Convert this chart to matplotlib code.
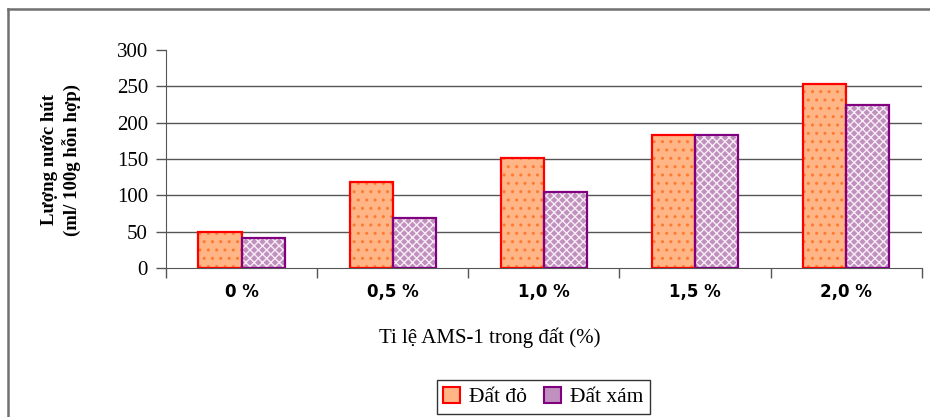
import matplotlib as mpl
mpl.use('Agg')
import matplotlib.pyplot as plt
from matplotlib.lines import Line2D
from matplotlib.patches import Patch
import numpy as np

categories = ['0 %', '0,5 %', '1,0 %', '1,5 %', '2,0 %']
dat_do = [50, 118, 152, 183, 253]
dat_xam = [41, 69, 105, 183, 225]

plt.rcParams['font.family'] = ['Liberation Serif', 'DejaVu Serif']
plt.rcParams['hatch.linewidth'] = 1.0

fig = plt.figure(figsize=(9.3, 4.17), dpi=100)
ax = fig.add_axes([0.1785, 0.357, 0.8125, 0.523])

x = np.arange(len(categories))
w = 0.285

# red soil: orange fill, dotted hatch, red outline
ax.bar(x - w / 2, dat_do, w, color='#FFB585', hatch='..', edgecolor='#FF7A30', lw=0, zorder=3)
ax.bar(x - w / 2, dat_do, w, fill=False, edgecolor='#FF0000', lw=1.6, zorder=4)
# grey soil: mauve fill, white woven hatch, purple outline
ax.bar(x + w / 2, dat_xam, w, color='#C090BE', hatch='xxxx', edgecolor='#F6ECF4', lw=0, zorder=3)
ax.bar(x + w / 2, dat_xam, w, fill=False, edgecolor='#800080', lw=1.6, zorder=4)

ax.set_xlim(-0.5, len(categories) - 0.5)
ax.set_ylim(0, 300)
ax.set_yticks(range(0, 301, 50))
for v in range(50, 300, 50):
    ax.axhline(v, color='#555555', lw=1, zorder=1)

ax.set_xticks(np.arange(-0.5, len(categories), 1))
ax.set_xticklabels([])
ax.tick_params(axis='x', length=7, width=1, color='#555555', direction='out')
ax.tick_params(axis='y', length=7, width=1, color='#555555', labelsize=15, pad=6)
for i, c in enumerate(categories):
    ax.text(i, -33, c, ha='center', va='center', fontsize=12, fontweight='bold',
            family='DejaVu Sans', transform=ax.transData)

for s in ['top', 'right']:
    ax.spines[s].set_visible(False)
ax.spines['left'].set_color('#555555')
ax.spines['bottom'].set_color('#555555')

fig.text(0.527, 0.19, 'Ti lệ AMS-1 trong đất (%)', ha='center', va='center', fontsize=15)
fig.text(0.066, 0.617, 'Lượng nước hút\n(ml/ 100g hỗn hợp)', ha='center', va='center',
         rotation=90, fontsize=13.5, fontweight='bold', linespacing=1.3)

handles = [Patch(facecolor='#FFB585', edgecolor='#FF0000', lw=1.5),
           Patch(facecolor='#C090BE', edgecolor='#800080', lw=1.5)]
leg = fig.legend(handles, ['Đất đỏ', 'Đất xám'], loc='center', bbox_to_anchor=(0.584, 0.048),
                 ncol=2, fontsize=15.5, frameon=True, fancybox=False, handlelength=0.8,
                 handleheight=0.8, handletextpad=0.4, columnspacing=0.8, borderpad=0.3)
leg.get_frame().set_edgecolor('#000000')
leg.get_frame().set_linewidth(1)

# outer frame of the chart area
fig.add_artist(Line2D([8 / 930, 8 / 930], [0, 1 - 9 / 417], color='#707070', lw=1.8))
fig.add_artist(Line2D([8 / 930, 1], [1 - 9 / 417, 1 - 9 / 417], color='#707070', lw=1.8))

fig.savefig('out.png', dpi=100)
